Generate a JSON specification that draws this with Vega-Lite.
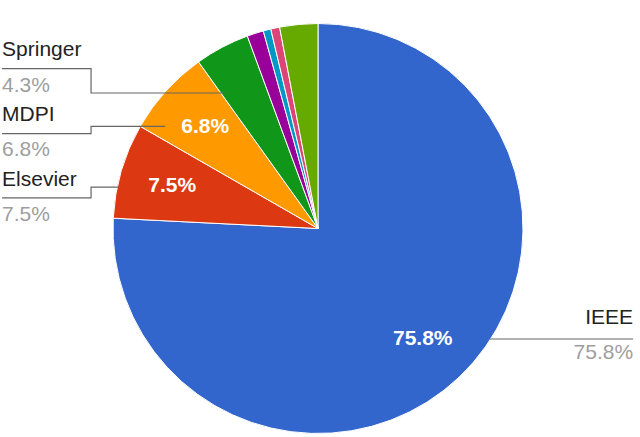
{
  "$schema": "https://vega.github.io/schema/vega-lite/v6.json",
  "width": 636,
  "height": 417,
  "autosize": {"type": "none"},
  "padding": {"top": 20, "left": 0, "right": 4, "bottom": 0},
  "background": "white",
  "config": {"view": {"stroke": null}, "font": "Liberation Sans"},
  "datasets": {
    "slices": [
      {"idx": 1, "name": "IEEE", "pct": 75.8, "inner": "75.8%"},
      {"idx": 2, "name": "Elsevier", "pct": 7.5, "inner": "7.5%"},
      {"idx": 3, "name": "MDPI", "pct": 6.8, "inner": "6.8%"},
      {"idx": 4, "name": "Springer", "pct": 4.3, "inner": ""},
      {"idx": 5, "name": "Other 1", "pct": 1.3, "inner": ""},
      {"idx": 6, "name": "Other 2", "pct": 0.6, "inner": ""},
      {"idx": 7, "name": "Other 3", "pct": 0.7, "inner": ""},
      {"idx": 8, "name": "Other 4", "pct": 3.0, "inner": ""}
    ],
    "leaders": [
      {"grp": "Springer", "k": 1, "x": -154.1, "y": 78.0},
      {"grp": "Springer", "k": 2, "x": -110.7, "y": 78.0},
      {"grp": "Springer", "k": 3, "x": -110.7, "y": 66.1},
      {"grp": "Springer", "k": 4, "x": -45.4, "y": 66.1},
      {"grp": "MDPI", "k": 1, "x": -154.1, "y": 46.3},
      {"grp": "MDPI", "k": 2, "x": -110.7, "y": 46.3},
      {"grp": "MDPI", "k": 3, "x": -110.7, "y": 49.8},
      {"grp": "MDPI", "k": 4, "x": -74.6, "y": 49.8},
      {"grp": "Elsevier", "k": 1, "x": -154.1, "y": 14.9},
      {"grp": "Elsevier", "k": 2, "x": -110.7, "y": 14.9},
      {"grp": "Elsevier", "k": 3, "x": -110.7, "y": 20.2},
      {"grp": "Elsevier", "k": 4, "x": -96.6, "y": 20.2},
      {"grp": "IEEE", "k": 1, "x": 83.9, "y": -53.9},
      {"grp": "IEEE", "k": 2, "x": 153.7, "y": -53.9}
    ],
    "leftLabels": [
      {"label": "Springer", "kind": "name", "x": -154.1, "y": 87.1},
      {"label": "4.3%", "kind": "pct", "x": -154.1, "y": 69.5},
      {"label": "MDPI", "kind": "name", "x": -154.1, "y": 55.4},
      {"label": "6.8%", "kind": "pct", "x": -154.1, "y": 38.3},
      {"label": "Elsevier", "kind": "name", "x": -154.1, "y": 23.7},
      {"label": "7.5%", "kind": "pct", "x": -154.1, "y": 6.6}
    ],
    "rightLabels": [
      {"label": "IEEE", "kind": "name", "x": 153.7, "y": -43.7},
      {"label": "75.8%", "kind": "pct", "x": 153.7, "y": -60.7}
    ]
  },
  "layer": [
    {
      "data": {"name": "slices"},
      "mark": {"type": "arc", "outerRadius": 205, "stroke": "white", "strokeWidth": 1},
      "encoding": {
        "theta": {"field": "pct", "type": "quantitative", "stack": true},
        "order": {"field": "idx", "type": "quantitative"},
        "color": {
          "field": "name",
          "type": "nominal",
          "scale": {
            "domain": ["IEEE", "Elsevier", "MDPI", "Springer", "Other 1", "Other 2", "Other 3", "Other 4"],
            "range": ["#3366cc", "#dc3912", "#ff9900", "#109618", "#990099", "#0099c6", "#dd4477", "#66aa00"]
          },
          "legend": null
        }
      }
    },
    {
      "data": {"name": "slices"},
      "mark": {"type": "text", "radius": 152, "fontSize": 21, "fontWeight": "bold", "fill": "white", "baseline": "middle", "align": "center"},
      "encoding": {
        "theta": {"field": "pct", "type": "quantitative", "stack": true},
        "order": {"field": "idx", "type": "quantitative"},
        "text": {"field": "inner"}
      }
    },
    {
      "data": {"name": "leaders"},
      "mark": {"type": "line", "stroke": "#666666", "strokeWidth": 1.2},
      "encoding": {
        "x": {"field": "x", "type": "quantitative", "scale": {"domain": [-155.12, 155.12], "nice": false, "zero": false}, "axis": null},
        "y": {"field": "y", "type": "quantitative", "scale": {"domain": [-101.71, 101.71], "nice": false, "zero": false}, "axis": null},
        "detail": {"field": "grp"},
        "order": {"field": "k", "type": "quantitative"}
      }
    },
    {
      "data": {"name": "leftLabels"},
      "mark": {"type": "text", "align": "left", "baseline": "middle", "fontSize": 21},
      "encoding": {
        "x": {"field": "x", "type": "quantitative", "scale": {"domain": [-155.12, 155.12], "nice": false, "zero": false}, "axis": null},
        "y": {"field": "y", "type": "quantitative", "scale": {"domain": [-101.71, 101.71], "nice": false, "zero": false}, "axis": null},
        "text": {"field": "label"},
        "color": {"field": "kind", "type": "nominal", "scale": {"domain": ["name", "pct"], "range": ["#222222", "#9e9e9e"]}, "legend": null}
      }
    },
    {
      "data": {"name": "rightLabels"},
      "mark": {"type": "text", "align": "right", "baseline": "middle", "fontSize": 21},
      "encoding": {
        "x": {"field": "x", "type": "quantitative", "scale": {"domain": [-155.12, 155.12], "nice": false, "zero": false}, "axis": null},
        "y": {"field": "y", "type": "quantitative", "scale": {"domain": [-101.71, 101.71], "nice": false, "zero": false}, "axis": null},
        "text": {"field": "label"},
        "color": {"field": "kind", "type": "nominal", "scale": {"domain": ["name", "pct"], "range": ["#222222", "#9e9e9e"]}, "legend": null}
      }
    }
  ],
  "resolve": {"scale": {"color": "independent"}}
}
